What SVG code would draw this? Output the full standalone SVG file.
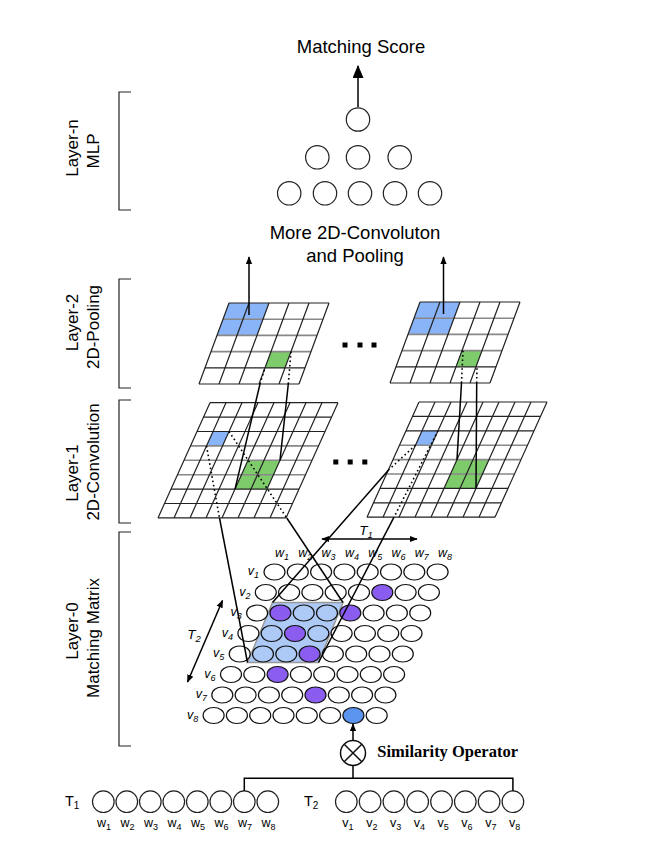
<svg xmlns="http://www.w3.org/2000/svg" width="656" height="858" viewBox="0 0 656 858">
<style>
text{font-family:"Liberation Sans",Arial,sans-serif;fill:#000}
.lbl{font-size:17px}
.ttl{font-size:18.5px}
.it{font-style:italic;font-size:12.5px}
.itT{font-style:italic;font-size:13.5px}
.sm{font-size:12.5px}
.big{font-size:14.5px}
.sim{font-family:"Liberation Serif","Times New Roman",serif;font-weight:bold;font-size:16.5px}
.gl{stroke:#222;stroke-width:1.2;fill:none}
.gg{stroke:#888;stroke-width:1.6;fill:none}
.e{fill:#fff;stroke:#111;stroke-width:1.2}
.lb{fill:#adc9f5}
.pu{fill:#8b5cf0}
.bl{fill:#5b94ee}
.c{fill:#fff;stroke:#222;stroke-width:1.2}
.conn{stroke:#000;stroke-width:1.5;fill:none}
.dot{stroke:#000;stroke-width:1.6;fill:none;stroke-dasharray:1.6 2.8}
.brk{stroke:#222;stroke-width:1.2;fill:none}
.blue{fill:#8ab4f8}
.green{fill:#7ecb6b}
</style>
<defs>
<marker id="ah" viewBox="0 0 10 10" refX="9" refY="5" markerWidth="8" markerHeight="8" markerUnits="userSpaceOnUse" orient="auto-start-reverse"><path d="M0,1 L10,5 L0,9 z" fill="#000"/></marker>
<marker id="ahb" viewBox="0 0 12 10" refX="11" refY="5" markerWidth="14" markerHeight="11" markerUnits="userSpaceOnUse" orient="auto"><path d="M0,0 L12,5 L0,10 z" fill="#000"/></marker>
</defs>
<rect width="656" height="858" fill="#fff"/>

<!-- layer labels and brackets -->
<g id="label-layer-n">
<path class="brk" d="M131,92 H119 V210 H131"/>
<text class="lbl" text-anchor="middle" transform="translate(77.5,148) rotate(-90)">Layer-n</text>
<text class="lbl" text-anchor="middle" transform="translate(98.5,151) rotate(-90)">MLP</text>
</g>
<g id="label-layer-2">
<path class="brk" d="M131,279 H119 V388 H131"/>
<text class="lbl" text-anchor="middle" transform="translate(77.5,322.5) rotate(-90)">Layer-2</text>
<text class="lbl" text-anchor="middle" transform="translate(98.5,327) rotate(-90)">2D-Pooling</text>
</g>
<g id="label-layer-1">
<path class="brk" d="M131,400 H119 V523 H131"/>
<text class="lbl" text-anchor="middle" transform="translate(77.5,473) rotate(-90)">Layer-1</text>
<text class="lbl" text-anchor="middle" transform="translate(98.5,462) rotate(-90)">2D-Convolution</text>
</g>
<g id="label-layer-0">
<path class="brk" d="M131,532 H119 V746 H131"/>
<text class="lbl" text-anchor="middle" transform="translate(77.5,631) rotate(-90)">Layer-0</text>
<text class="lbl" text-anchor="middle" transform="translate(98.5,638) rotate(-90)">Matching Matrix</text>
</g>

<!-- MLP -->
<g id="matching-score"><text class="ttl" x="361" y="53" text-anchor="middle">Matching Score</text></g>
<g id="mlp">
<circle class="c" cx="358" cy="119.5" r="11.7"/>
<circle class="c" cx="317.3" cy="157.3" r="11.7"/>
<circle class="c" cx="358" cy="157.3" r="11.7"/>
<circle class="c" cx="399.7" cy="157.3" r="11.7"/>
<circle class="c" cx="289.2" cy="193.3" r="11.7"/>
<circle class="c" cx="325" cy="193.3" r="11.7"/>
<circle class="c" cx="360" cy="193.3" r="11.7"/>
<circle class="c" cx="395" cy="193.3" r="11.7"/>
<circle class="c" cx="430" cy="193.3" r="11.7"/>
</g>
<g id="more-conv-label">
<text class="ttl" x="355" y="239" text-anchor="middle">More 2D-Convoluton</text>
<text class="ttl" x="355" y="262" text-anchor="middle">and Pooling</text>
</g>

<!-- Pooling grids -->
<g id="pool-left" transform="translate(229,303)">
<path class="blue" d="M0,0 L40,0 L28,32.4 L-12,32.4 Z"/>
<path class="green" d="M42,48.6 L62,48.6 L56,64.8 L36,64.8 Z"/>
<path class="gl" d="M0,0 H100 M-24,64.8 H76 M-30,81 H70"/>
<path class="gg" d="M-6,16.2 H94 M-12,32.4 H88 M-18,48.6 H82"/>
<path class="gl" d="M0,0 L-30,81 M20,0 L-10,81 M40,0 L10,81 M60,0 L30,81 M80,0 L50,81 M100,0 L70,81"/>
</g>
<g id="pool-right" transform="translate(420,302)">
<path class="blue" d="M0,0 L40,0 L28,32.4 L-12,32.4 Z"/>
<path class="green" d="M42,48.6 L62,48.6 L56,64.8 L36,64.8 Z"/>
<path class="gl" d="M0,0 H100 M-24,64.8 H76 M-30,81 H70"/>
<path class="gg" d="M-6,16.2 H94 M-12,32.4 H88 M-18,48.6 H82"/>
<path class="gl" d="M0,0 L-30,81 M20,0 L-10,81 M40,0 L10,81 M60,0 L30,81 M80,0 L50,81 M100,0 L70,81"/>
</g>
<g id="pool-ellipsis" fill="#000">
<rect x="342.5" y="342.5" width="5" height="5"/><rect x="357.5" y="342.5" width="5" height="5"/><rect x="371.5" y="342.5" width="5" height="5"/>
</g>

<!-- Convolution grids -->
<g id="conv-left" transform="translate(210,402.7)">
<path class="blue" d="M3,28.8 L19,28.8 L12.5,43.2 L-3.5,43.2 Z"/>
<path class="green" d="M38,57.6 L70,57.6 L57,86.4 L25,86.4 Z"/>
<path class="gl" d="M0,0 H128 M-6.5,14.4 H121.5 M-13,28.8 H115 M-39,86.4 H89 M-45.5,100.8 H82.5 M-52,115.2 H76"/>
<path class="gg" d="M-19.5,43.2 H108.5 M-26,57.6 H102 M-32.5,72 H95.5"/>
<path class="gl" d="M0,0 L-52,115.2 M16,0 L-36,115.2 M32,0 L-20,115.2 M48,0 L-4,115.2 M64,0 L12,115.2 M80,0 L28,115.2 M96,0 L44,115.2 M112,0 L60,115.2 M128,0 L76,115.2"/>
</g>
<g id="conv-right" transform="translate(419,402)">
<path class="blue" d="M3,28.8 L19,28.8 L12.5,43.2 L-3.5,43.2 Z"/>
<path class="green" d="M38,57.6 L70,57.6 L57,86.4 L25,86.4 Z"/>
<path class="gl" d="M0,0 H128 M-6.5,14.4 H121.5 M-13,28.8 H115 M-39,86.4 H89 M-45.5,100.8 H82.5 M-52,115.2 H76"/>
<path class="gg" d="M-19.5,43.2 H108.5 M-26,57.6 H102 M-32.5,72 H95.5"/>
<path class="gl" d="M0,0 L-52,115.2 M16,0 L-36,115.2 M32,0 L-20,115.2 M48,0 L-4,115.2 M64,0 L12,115.2 M80,0 L28,115.2 M96,0 L44,115.2 M112,0 L60,115.2 M128,0 L76,115.2"/>
</g>
<g id="conv-ellipsis" fill="#000">
<rect x="333.3" y="459.5" width="5" height="5"/><rect x="347.7" y="459.5" width="5" height="5"/><rect x="362.3" y="459.5" width="5" height="5"/>
</g>

<!-- Matching matrix -->
<g id="matching-matrix">
<path d="M272.5,602.5 L343,602.5 L318.5,662.5 L247.5,662.5 Z" fill="#adc9f5" stroke="#999" stroke-width="1.5"/>
<g>
<ellipse class="e" cx="274.5" cy="572" rx="10.5" ry="8"/><ellipse class="e" cx="297.8" cy="572" rx="10.5" ry="8"/><ellipse class="e" cx="321.1" cy="572" rx="10.5" ry="8"/><ellipse class="e" cx="344.4" cy="572" rx="10.5" ry="8"/><ellipse class="e" cx="367.7" cy="572" rx="10.5" ry="8"/><ellipse class="e" cx="391" cy="572" rx="10.5" ry="8"/><ellipse class="e" cx="414.3" cy="572" rx="10.5" ry="8"/><ellipse class="e" cx="437.6" cy="572" rx="10.5" ry="8"/>
<ellipse class="e" cx="265.8" cy="592.5" rx="10.5" ry="8"/><ellipse class="e" cx="289.1" cy="592.5" rx="10.5" ry="8"/><ellipse class="e" cx="312.4" cy="592.5" rx="10.5" ry="8"/><ellipse class="e" cx="335.7" cy="592.5" rx="10.5" ry="8"/><ellipse class="e" cx="359" cy="592.5" rx="10.5" ry="8"/><ellipse class="e pu" cx="382.3" cy="592.5" rx="10.5" ry="8"/><ellipse class="e" cx="405.6" cy="592.5" rx="10.5" ry="8"/><ellipse class="e" cx="428.9" cy="592.5" rx="10.5" ry="8"/>
<ellipse class="e" cx="257.1" cy="613" rx="10.5" ry="8"/><ellipse class="e pu" cx="280.4" cy="613" rx="10.5" ry="8"/><ellipse class="e lb" cx="303.7" cy="613" rx="10.5" ry="8"/><ellipse class="e lb" cx="327" cy="613" rx="10.5" ry="8"/><ellipse class="e pu" cx="350.3" cy="613" rx="10.5" ry="8"/><ellipse class="e" cx="373.6" cy="613" rx="10.5" ry="8"/><ellipse class="e" cx="396.9" cy="613" rx="10.5" ry="8"/><ellipse class="e" cx="420.2" cy="613" rx="10.5" ry="8"/>
<ellipse class="e" cx="248.4" cy="633.5" rx="10.5" ry="8"/><ellipse class="e lb" cx="271.7" cy="633.5" rx="10.5" ry="8"/><ellipse class="e pu" cx="295" cy="633.5" rx="10.5" ry="8"/><ellipse class="e lb" cx="318.3" cy="633.5" rx="10.5" ry="8"/><ellipse class="e" cx="341.6" cy="633.5" rx="10.5" ry="8"/><ellipse class="e" cx="364.9" cy="633.5" rx="10.5" ry="8"/><ellipse class="e" cx="388.2" cy="633.5" rx="10.5" ry="8"/><ellipse class="e" cx="411.5" cy="633.5" rx="10.5" ry="8"/>
<ellipse class="e" cx="239.7" cy="654" rx="10.5" ry="8"/><ellipse class="e lb" cx="263" cy="654" rx="10.5" ry="8"/><ellipse class="e lb" cx="286.3" cy="654" rx="10.5" ry="8"/><ellipse class="e pu" cx="309.6" cy="654" rx="10.5" ry="8"/><ellipse class="e" cx="332.9" cy="654" rx="10.5" ry="8"/><ellipse class="e" cx="356.2" cy="654" rx="10.5" ry="8"/><ellipse class="e" cx="379.5" cy="654" rx="10.5" ry="8"/><ellipse class="e" cx="402.8" cy="654" rx="10.5" ry="8"/>
<ellipse class="e" cx="231" cy="674.5" rx="10.5" ry="8"/><ellipse class="e" cx="254.3" cy="674.5" rx="10.5" ry="8"/><ellipse class="e pu" cx="277.6" cy="674.5" rx="10.5" ry="8"/><ellipse class="e" cx="300.9" cy="674.5" rx="10.5" ry="8"/><ellipse class="e" cx="324.2" cy="674.5" rx="10.5" ry="8"/><ellipse class="e" cx="347.5" cy="674.5" rx="10.5" ry="8"/><ellipse class="e" cx="370.8" cy="674.5" rx="10.5" ry="8"/><ellipse class="e" cx="394.1" cy="674.5" rx="10.5" ry="8"/>
<ellipse class="e" cx="222.3" cy="695" rx="10.5" ry="8"/><ellipse class="e" cx="245.6" cy="695" rx="10.5" ry="8"/><ellipse class="e" cx="268.9" cy="695" rx="10.5" ry="8"/><ellipse class="e" cx="292.2" cy="695" rx="10.5" ry="8"/><ellipse class="e pu" cx="315.5" cy="695" rx="10.5" ry="8"/><ellipse class="e" cx="338.8" cy="695" rx="10.5" ry="8"/><ellipse class="e" cx="362.1" cy="695" rx="10.5" ry="8"/><ellipse class="e" cx="385.4" cy="695" rx="10.5" ry="8"/>
<ellipse class="e" cx="213.6" cy="715.5" rx="10.5" ry="8"/><ellipse class="e" cx="236.9" cy="715.5" rx="10.5" ry="8"/><ellipse class="e" cx="260.2" cy="715.5" rx="10.5" ry="8"/><ellipse class="e" cx="283.5" cy="715.5" rx="10.5" ry="8"/><ellipse class="e" cx="306.8" cy="715.5" rx="10.5" ry="8"/><ellipse class="e" cx="330.1" cy="715.5" rx="10.5" ry="8"/><ellipse class="e bl" cx="353.4" cy="715.5" rx="10.5" ry="8"/><ellipse class="e" cx="376.7" cy="715.5" rx="10.5" ry="8"/>
</g>
<g>
<text class="it" x="282" y="557" text-anchor="middle">w<tspan font-size="9" dy="3">1</tspan></text>
<text class="it" x="305.3" y="557" text-anchor="middle">w<tspan font-size="9" dy="3">2</tspan></text>
<text class="it" x="328.6" y="557" text-anchor="middle">w<tspan font-size="9" dy="3">3</tspan></text>
<text class="it" x="351.9" y="557" text-anchor="middle">w<tspan font-size="9" dy="3">4</tspan></text>
<text class="it" x="375.2" y="557" text-anchor="middle">w<tspan font-size="9" dy="3">5</tspan></text>
<text class="it" x="398.5" y="557" text-anchor="middle">w<tspan font-size="9" dy="3">6</tspan></text>
<text class="it" x="421.8" y="557" text-anchor="middle">w<tspan font-size="9" dy="3">7</tspan></text>
<text class="it" x="445.1" y="557" text-anchor="middle">w<tspan font-size="9" dy="3">8</tspan></text>
<text class="it" x="253.5" y="575" text-anchor="middle">v<tspan font-size="9" dy="3">1</tspan></text>
<text class="it" x="244.8" y="595.5" text-anchor="middle">v<tspan font-size="9" dy="3">2</tspan></text>
<text class="it" x="236.1" y="616" text-anchor="middle">v<tspan font-size="9" dy="3">3</tspan></text>
<text class="it" x="227.4" y="636.5" text-anchor="middle">v<tspan font-size="9" dy="3">4</tspan></text>
<text class="it" x="218.7" y="657" text-anchor="middle">v<tspan font-size="9" dy="3">5</tspan></text>
<text class="it" x="210" y="677.5" text-anchor="middle">v<tspan font-size="9" dy="3">6</tspan></text>
<text class="it" x="201.3" y="698" text-anchor="middle">v<tspan font-size="9" dy="3">7</tspan></text>
<text class="it" x="192.6" y="718.5" text-anchor="middle">v<tspan font-size="9" dy="3">8</tspan></text>
<text class="itT" x="366" y="535" text-anchor="middle">T<tspan font-size="9.5" dy="3">1</tspan></text>
<text class="itT" x="194" y="639" text-anchor="middle">T<tspan font-size="9.5" dy="3">2</tspan></text>
</g>
</g>

<!-- Similarity operator -->
<g id="similarity-operator">
<circle cx="353" cy="753" r="12.5" fill="#fff" stroke="#111" stroke-width="1.5"/>
<path d="M344.2,744.2 L361.8,761.8 M361.8,744.2 L344.2,761.8" stroke="#111" stroke-width="1.5"/>
<text class="sim" x="377.3" y="757.3">Similarity Operator</text>
</g>

<!-- Input sentences -->
<g id="text-t1">
<text class="big" x="65" y="806">T<tspan font-size="10" dy="3">1</tspan></text>
<circle class="c" cx="103.3" cy="801.7" r="10.8"/><circle class="c" cx="126.8" cy="801.7" r="10.8"/><circle class="c" cx="150.3" cy="801.7" r="10.8"/><circle class="c" cx="173.8" cy="801.7" r="10.8"/><circle class="c" cx="197.3" cy="801.7" r="10.8"/><circle class="c" cx="220.8" cy="801.7" r="10.8"/><circle class="c bl" cx="244.3" cy="801.7" r="10.8"/><circle class="c" cx="267.8" cy="801.7" r="10.8"/>
<g text-anchor="middle">
<text class="sm" x="104" y="827">w<tspan font-size="9" dy="3">1</tspan></text>
<text class="sm" x="127.5" y="827">w<tspan font-size="9" dy="3">2</tspan></text>
<text class="sm" x="151" y="827">w<tspan font-size="9" dy="3">3</tspan></text>
<text class="sm" x="174.5" y="827">w<tspan font-size="9" dy="3">4</tspan></text>
<text class="sm" x="198" y="827">w<tspan font-size="9" dy="3">5</tspan></text>
<text class="sm" x="221.5" y="827">w<tspan font-size="9" dy="3">6</tspan></text>
<text class="sm" x="245" y="827">w<tspan font-size="9" dy="3">7</tspan></text>
<text class="sm" x="268.5" y="827">w<tspan font-size="9" dy="3">8</tspan></text>
</g>
</g>
<g id="text-t2">
<text class="big" x="304" y="806">T<tspan font-size="10" dy="3">2</tspan></text>
<circle class="c" cx="346.3" cy="801.7" r="10.8"/><circle class="c" cx="370.1" cy="801.7" r="10.8"/><circle class="c" cx="393.9" cy="801.7" r="10.8"/><circle class="c" cx="417.7" cy="801.7" r="10.8"/><circle class="c" cx="441.5" cy="801.7" r="10.8"/><circle class="c" cx="465.3" cy="801.7" r="10.8"/><circle class="c" cx="489.1" cy="801.7" r="10.8"/><circle class="c bl" cx="512.9" cy="801.7" r="10.8"/>
<g text-anchor="middle">
<text class="sm" x="348" y="827">v<tspan font-size="9" dy="3">1</tspan></text>
<text class="sm" x="371.8" y="827">v<tspan font-size="9" dy="3">2</tspan></text>
<text class="sm" x="395.6" y="827">v<tspan font-size="9" dy="3">3</tspan></text>
<text class="sm" x="419.4" y="827">v<tspan font-size="9" dy="3">4</tspan></text>
<text class="sm" x="443.2" y="827">v<tspan font-size="9" dy="3">5</tspan></text>
<text class="sm" x="467" y="827">v<tspan font-size="9" dy="3">6</tspan></text>
<text class="sm" x="490.8" y="827">v<tspan font-size="9" dy="3">7</tspan></text>
<text class="sm" x="514.6" y="827">v<tspan font-size="9" dy="3">8</tspan></text>
</g>
</g>

<!-- Connectors -->
<g id="connectors">
<line class="conn" x1="358" y1="107" x2="358" y2="66" stroke-width="2" marker-end="url(#ahb)"/>
<line class="conn" x1="249" y1="315" x2="249" y2="257" marker-end="url(#ah)"/>
<line class="conn" x1="443.5" y1="314" x2="443.5" y2="257" marker-end="url(#ah)"/>
<line class="conn" x1="235" y1="489.1" x2="260" y2="384"/>
<line class="dot" x1="260" y1="384" x2="265" y2="367.8"/>
<line class="conn" x1="280" y1="460.3" x2="288.3" y2="384"/>
<line class="dot" x1="288.3" y1="384" x2="291" y2="351.6"/>
<line class="conn" x1="457" y1="459.6" x2="461.5" y2="383"/>
<line class="dot" x1="461.5" y1="383" x2="463" y2="350.6"/>
<line class="conn" x1="476" y1="488.4" x2="476.7" y2="383"/>
<line class="dot" x1="476.7" y1="383" x2="477" y2="366.8"/>
<line class="dot" x1="206.5" y1="445.9" x2="219.5" y2="518"/>
<line class="conn" x1="219.5" y1="518" x2="247.5" y2="662.5"/>
<line class="dot" x1="229" y1="431.5" x2="286.8" y2="518"/>
<line class="conn" x1="286.8" y1="518" x2="343" y2="602.5"/>
<line class="dot" x1="415.5" y1="445.2" x2="389" y2="469.5"/>
<line class="conn" x1="389" y1="469.5" x2="272.5" y2="602.5"/>
<line class="dot" x1="438" y1="430.8" x2="394" y2="517.2"/>
<line class="conn" x1="394" y1="517.2" x2="318.5" y2="662.5"/>
<line class="conn" x1="322" y1="539" x2="417" y2="539" stroke-width="1.2" marker-start="url(#ah)" marker-end="url(#ah)"/>
<line class="conn" x1="222.5" y1="600.5" x2="187.5" y2="682" stroke-width="1.2" marker-start="url(#ah)" marker-end="url(#ah)"/>
<path class="conn" d="M244.3,790.9 V778.3 H512.9 V790.9"/>
<line class="conn" x1="353" y1="778.3" x2="353" y2="765.5"/>
<line class="conn" x1="353" y1="740.5" x2="353" y2="724" marker-end="url(#ah)"/>
</g>
</svg>
